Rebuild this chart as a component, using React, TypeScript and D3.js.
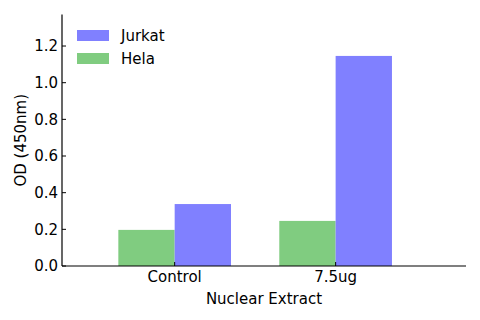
import * as d3 from 'd3';

const categories = ['Control', '7.5ug'];
const helaValues = [0.197, 0.246];
const jurkatValues = [0.338, 1.146];
const yTicks = [0, 0.2, 0.4, 0.6, 0.8, 1.0, 1.2];

export default function App() {
  const width = 480;
  const height = 320;
  const left = 62;
  const right = 466;
  const top = 14.5;
  const bottom = 266;
  const font = 'DejaVu Sans, sans-serif';

  const x = d3.scaleLinear().domain([-0.7, 1.81]).range([left, right]);
  const y = d3.scaleLinear().domain([0, 1.372]).range([bottom, top]);
  const barW = 0.35;

  const series = [
    { name: 'Hela', values: helaValues, color: '#80cc80', offset: -barW },
    { name: 'Jurkat', values: jurkatValues, color: '#8080ff', offset: 0 },
  ];
  const legend = [series[1], series[0]];

  return (
    <svg width={width} height={height} style={{ position: 'absolute', left: 0, top: 0 }}>
      <rect width={width} height={height} fill="white" />
      {series.map((s) =>
        s.values.map((v, i) => (
          <rect
            key={s.name + i}
            x={x(i + s.offset)}
            y={y(v)}
            width={x(i + s.offset + barW) - x(i + s.offset)}
            height={y(0) - y(v)}
            fill={s.color}
          />
        ))
      )}
      {/* axes */}
      <line x1={left} x2={left} y1={top} y2={bottom} stroke="black" strokeWidth={1.2} />
      <line x1={left} x2={right} y1={bottom} y2={bottom} stroke="black" strokeWidth={1.2} />
      {yTicks.map((t) => (
        <g key={t}>
          <line x1={left} x2={left + 4} y1={y(t)} y2={y(t)} stroke="black" />
          <text x={left - 4} y={y(t)} dy="0.36em" textAnchor="end" fontFamily={font} fontSize={15}>
            {t.toFixed(1)}
          </text>
        </g>
      ))}
      {categories.map((c, i) => (
        <g key={c}>
          <line x1={x(i)} x2={x(i)} y1={bottom} y2={bottom - 4} stroke="black" />
          <text x={x(i)} y={282} textAnchor="middle" fontFamily={font} fontSize={15}>
            {c}
          </text>
        </g>
      ))}
      <text x={(left + right) / 2} y={304} textAnchor="middle" fontFamily={font} fontSize={15}>
        Nuclear Extract
      </text>
      <text
        transform={`translate(26, ${(top + bottom) / 2}) rotate(-90)`}
        textAnchor="middle"
        fontFamily={font}
        fontSize={15}
      >
        OD (450nm)
      </text>
      {legend.map((s, i) => (
        <g key={s.name} transform={`translate(77, ${30 + i * 23})`}>
          <rect width={32} height={11} fill={s.color} />
          <text x={44} y={5.5} dy="0.36em" fontFamily={font} fontSize={15}>
            {s.name}
          </text>
        </g>
      ))}
    </svg>
  );
}
